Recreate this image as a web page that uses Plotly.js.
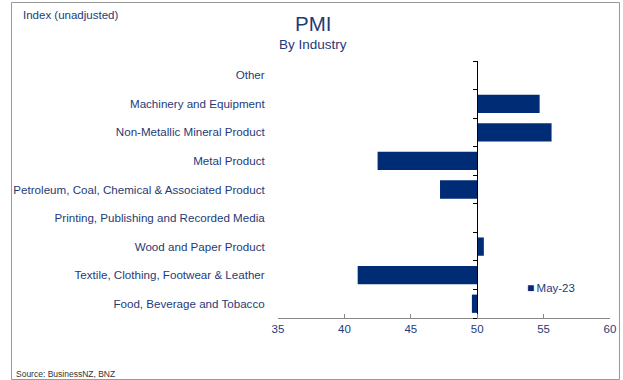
<!DOCTYPE html>
<html>
<head>
<meta charset="utf-8">
<script src="https://cdn.plot.ly/plotly-3.0.1.min.js"></script>
<style>
html,body{margin:0;padding:0;background:#fff;}
#chart{width:623px;height:380px;}
</style>
</head>
<body>
<div id="chart"></div>
<script>
// Data (top to bottom as shown)
const categories = [
  "Other",
  "Machinery and Equipment",
  "Non-Metallic Mineral Product",
  "Metal Product",
  "Petroleum, Coal, Chemical & Associated Product",
  "Printing, Publishing and Recorded Media",
  "Wood and Paper Product",
  "Textile, Clothing, Footwear & Leather",
  "Food, Beverage and Tobacco"
];
const may23 = [null, 54.7, 55.6, 42.5, 47.2, 50.0, 50.5, 41.0, 49.6];
const seriesName = "May-23";
const baseline = 50;
const xTicks = [35, 40, 45, 50, 55, 60];

const navy = "#002B75";
const textBlue = "#1F3A78";

const bars = {
  type: "bar",
  orientation: "h",
  name: seriesName,
  y: categories,
  x: may23.map(v => v === null ? null : v - baseline),
  base: baseline,
  width: 0.64,
  marker: {color: navy, line: {width: 0}},
  showlegend: false,
  hoverinfo: "skip"
};

// empty helper trace so the baseline axis (y2) gets drawn
const axisHelper = {
  type: "scatter", mode: "markers", x: [null], y: [null],
  xaxis: "x", yaxis: "y2", showlegend: false, hoverinfo: "skip"
};

const xRange = [xTicks[0], xTicks[xTicks.length - 1]];
const linePos = (baseline - xRange[0]) / (xRange[1] - xRange[0]);

const boundaries = [];
for (let i = 0; i <= categories.length; i++) boundaries.push(i - 0.5);

const layout = {
  width: 623, height: 380,
  margin: {l: 278, r: 13, t: 61, b: 62},
  paper_bgcolor: "#fff", plot_bgcolor: "#fff",
  font: {family: "Liberation Sans, Arial, sans-serif", size: 11, color: textBlue},
  showlegend: false,
  xaxis: {
    range: xRange, tickvals: xTicks, ticktext: xTicks.map(String),
    showgrid: false, zeroline: false,
    showline: true, linecolor: "#888", linewidth: 1,
    ticks: "inside", ticklen: 4, tickcolor: "#888",
    tickfont: {size: 11.5, color: textBlue}, fixedrange: true
  },
  yaxis: {
    type: "category", categoryarray: categories, categoryorder: "array",
    range: [categories.length - 0.5, -0.5],
    showgrid: false, zeroline: false, showline: false,
    ticks: "outside", ticklen: 10, tickcolor: "rgba(0,0,0,0)",
    tickfont: {size: 11.6, color: textBlue}, fixedrange: true
  },
  yaxis2: {
    type: "linear",
    overlaying: "y", anchor: "free", position: linePos, side: "left",
    range: [categories.length - 0.5, -0.5],
    tickvals: boundaries, showticklabels: false,
    showgrid: false, zeroline: false,
    showline: true, linecolor: "#000", linewidth: 1,
    ticks: "outside", ticklen: 4, tickcolor: "#000", fixedrange: true
  },
  annotations: [
    {text: "PMI", xref: "paper", yref: "paper", x: (312.5 - 278) / 332 , y: 1, yshift: 38,
     xanchor: "center", yanchor: "middle", showarrow: false, font: {size: 20.5, color: textBlue}},
    {text: "By Industry", xref: "paper", yref: "paper", x: (312.5 - 278) / 332, y: 1, yshift: 17,
     xanchor: "center", yanchor: "middle", showarrow: false, font: {size: 13.5, color: textBlue}},
    {text: "Index (unadjusted)", xref: "paper", yref: "paper", x: (21 - 278) / 332, y: 1, yshift: 46,
     xanchor: "left", yanchor: "middle", showarrow: false, font: {size: 11.5, color: textBlue}},
    {text: "Source: BusinessNZ, BNZ", xref: "paper", yref: "paper", x: (14 - 278) / 332, y: 0, yshift: -56,
     xanchor: "left", yanchor: "middle", showarrow: false, font: {size: 8.5, color: "#333"}},
    {text: '<span style="color:' + navy + ';font-size:12px">■</span>\u2009' + seriesName,
     xref: "paper", yref: "paper", x: (525 - 278) / 332, y: (318 - 288) / 257,
     xanchor: "left", yanchor: "middle", showarrow: false, font: {size: 11.5, color: textBlue}}
  ],
  shapes: [
    {type: "rect", xref: "paper", yref: "paper",
     x0: (11.5 - 278) / 332, x1: (619.5 - 278) / 332,
     y0: (318 - 379.5) / 257, y1: (318 - 2.5) / 257,
     line: {color: "#999", width: 1}, fillcolor: "rgba(0,0,0,0)", layer: "below"}
  ]
};

Plotly.newPlot("chart", [bars, axisHelper], layout, {staticPlot: true, displayModeBar: false});
</script>
</body>
</html>
